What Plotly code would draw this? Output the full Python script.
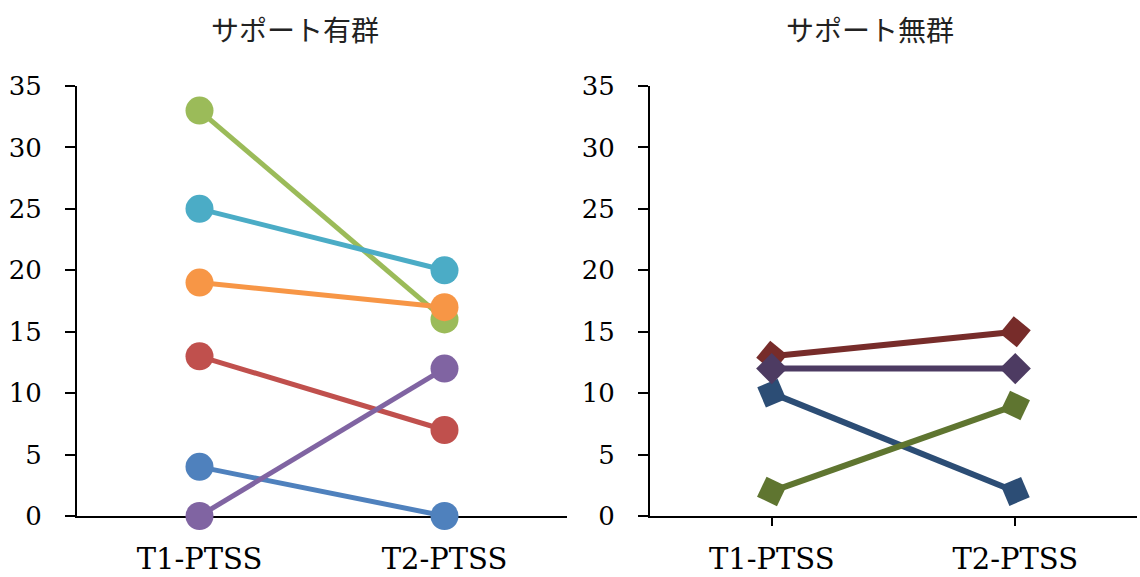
import plotly.graph_objects as go

# Time points on the x axis
categories = ["T1-PTSS", "T2-PTSS"]

# サポート有群: PTSS scores at T1 and T2 per participant
with_support = {
    "A1": [4, 0],
    "A2": [13, 7],
    "A3": [33, 16],
    "A4": [0, 12],
    "A5": [25, 20],
    "A6": [19, 17],
}
with_colors = ["#4F81BD", "#C0504D", "#9BBB59", "#8064A2", "#4BACC6", "#F79646"]

# サポート無群: PTSS scores at T1 and T2 per participant
without_support = {
    "B1": [10, 2],
    "B2": [13, 15],
    "B3": [2, 9],
    "B4": [12, 12],
}
without_colors = ["#2C4D75", "#772C2A", "#5F7530", "#4D3B62"]

y_ticks = [0, 5, 10, 15, 20, 25, 30, 35]

W, H = 1140, 577
fig = go.Figure()

for (name, vals), col in zip(with_support.items(), with_colors):
    fig.add_trace(go.Scatter(
        x=categories, y=vals, name=name, mode="lines+markers",
        line=dict(color=col, width=5),
        marker=dict(symbol="circle", size=28, color=col),
        cliponaxis=False, xaxis="x", yaxis="y", showlegend=False,
    ))

# Diamonds turned along each segment: one pass forward (marks the end point)
# and one pass backward (marks the start point).
for (name, vals), col in zip(without_support.items(), without_colors):
    fig.add_trace(go.Scatter(
        x=categories, y=vals, name=name, mode="lines",
        line=dict(color=col, width=6),
        cliponaxis=False, xaxis="x2", yaxis="y2", showlegend=False,
    ))
    for xs, ys in ((categories, vals), (categories[::-1], vals[::-1])):
        fig.add_trace(go.Scatter(
            x=xs, y=ys, name=name, mode="markers",
            marker=dict(symbol="diamond", size=24, color=col, angleref="previous"),
            cliponaxis=False, xaxis="x2", yaxis="y2", showlegend=False,
        ))

tick_font = dict(family="DejaVu Serif", size=26, color="black")
cat_font = dict(family="DejaVu Serif", size=29, color="black")

y_dom = [(H - 516) / H, (H - 86) / H]

common_y = dict(
    range=[0, 35], tickvals=y_ticks, showgrid=False, zeroline=False,
    showline=True, linecolor="black", linewidth=2,
    ticks="outside", ticklen=10, tickwidth=2, tickcolor="black",
    tickfont=tick_font, ticklabelstandoff=18, layer="below traces",
    domain=y_dom, automargin=False,
)
common_x = dict(
    type="category", range=[-0.5, 1.5], showgrid=False, zeroline=False,
    showline=True, linecolor="black", linewidth=2,
    tickfont=cat_font, layer="below traces", automargin=False,
)

fig.update_layout(
    width=W, height=H,
    margin=dict(l=0, r=0, t=0, b=0),
    paper_bgcolor="white", plot_bgcolor="white",
    xaxis=dict(common_x, domain=[77 / W, 567 / W], anchor="y",
               ticks="", ticklabelstandoff=16),
    yaxis=dict(common_y, anchor="x"),
    xaxis2=dict(common_x, domain=[650 / W, 1137 / W], anchor="y2",
                ticks="outside", ticklen=8, tickwidth=2, tickcolor="black",
                ticklabelstandoff=8),
    yaxis2=dict(common_y, anchor="x2"),
    annotations=[
        dict(text="サポート有群", x=295 / W, y=1 - 29 / H, xref="paper", yref="paper",
             xanchor="center", yanchor="middle", showarrow=False,
             font=dict(family="Noto Sans CJK JP", size=28, color="#222")),
        dict(text="サポート無群", x=870 / W, y=1 - 29 / H, xref="paper", yref="paper",
             xanchor="center", yanchor="middle", showarrow=False,
             font=dict(family="Noto Sans CJK JP", size=28, color="#222")),
    ],
)

fig.write_html("out.html")
